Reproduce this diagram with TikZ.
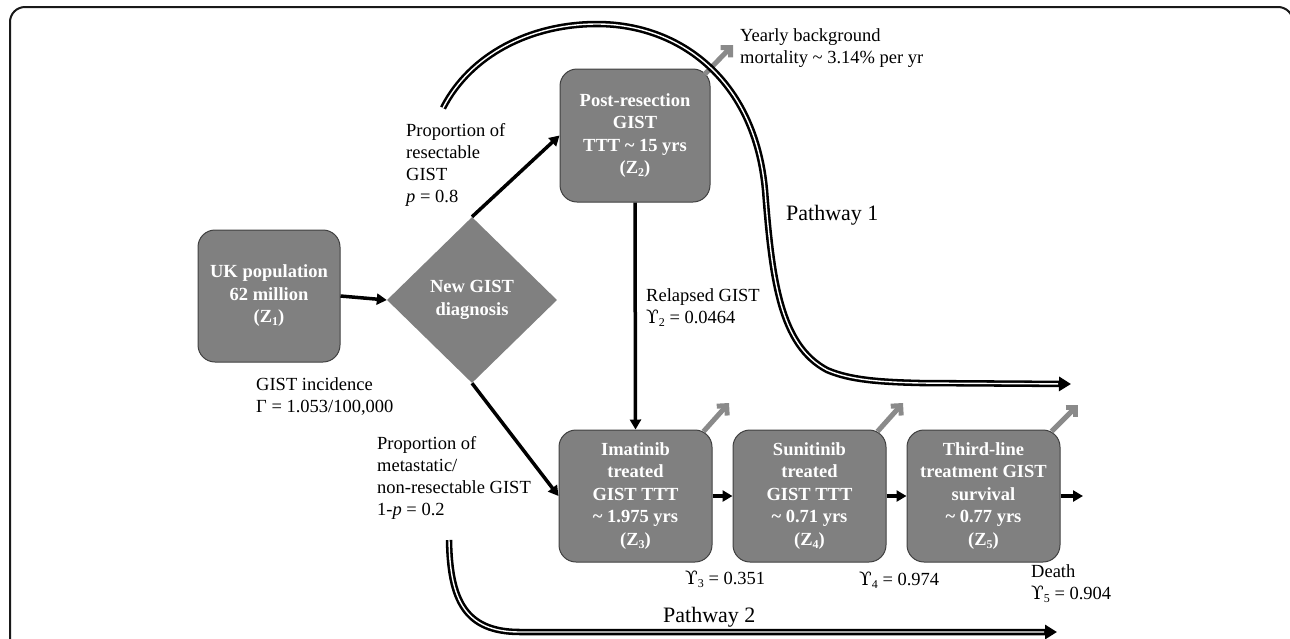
\documentclass[tikz,border=0pt]{standalone}
\usepackage{fontspec}
\setmainfont{Liberation Serif}
\newfontfamily\dvserif{DejaVu Serif}
\usetikzlibrary{shapes.geometric,arrows.meta}
\definecolor{boxgray}{HTML}{808080}
\definecolor{arrgray}{HTML}{8A8A8A}
\newcommand\gsym{{\dvserif ϒ}}
\newcommand\lowsub[1]{\raisebox{-0.35ex}{\fontsize{12}{12}\selectfont #1}}
\newcommand\tld{\textasciitilde}
\begin{document}
\begin{tikzpicture}[x=1pt,y=-1pt,
  box/.style={draw=black!75, line width=1, fill=boxgray, rounded corners=17,
    text=white, font=\fontsize{18.5}{22.5}\selectfont\bfseries, align=center, inner sep=0},
  ann/.style={font=\fontsize{18.5}{22}\selectfont, align=left, inner sep=0, anchor=west},
  pathlbl/.style={font=\fontsize{22}{24}\selectfont, inner sep=0, anchor=west},
  flow/.style={line width=3.5, -{Triangle[length=10,width=11]}},
  garrow/.style={draw=arrgray, line width=5, -{Straight Barb[length=7,width=14]}},
  dbl/.style={line width=6.5, -{Triangle[length=12,width=14]}},
  dblin/.style={draw=white, line width=1.4, shorten >=13}]
\useasboundingbox (0,0) rectangle (1290,638);
% outer frame
\draw[line width=2, draw=black!90, rounded corners=15] (10,7) rectangle (1293,680);

% mortality arrows (behind boxes)
\coordinate (m2) at (733,45);
\coordinate (m3) at (729,403);
\coordinate (m4) at (903,403);
\coordinate (m5) at (1078,405);

% boxes
\node[box, minimum width=142, minimum height=132] (uk) at (269,296) {UK population\\62 million\\(Z\lowsub{1})};
\node[diamond, fill=boxgray, minimum width=170, minimum height=166, inner sep=0,
  text=white, font=\fontsize{18.5}{22.5}\selectfont\bfseries, align=center] (dia) at (472,300) {New GIST\\diagnosis};
\node[box, minimum width=150, minimum height=133] (post) at (635,135.5) {Post-resection\\GIST\\TTT \tld\ 15 yrs\\(Z\lowsub{2})};
\node[box, minimum width=153, minimum height=132] (ima) at (635.5,496) {Imatinib\\treated\\GIST TTT\\\tld\ 1.975 yrs\\(Z\lowsub{3})};
\node[box, minimum width=153, minimum height=132] (sun) at (809.5,496) {Sunitinib\\treated\\GIST TTT\\\tld\ 0.71 yrs\\(Z\lowsub{4})};
\node[box, minimum width=153, minimum height=132] (third) at (983.5,496) {Third-line\\treatment GIST\\survival\\\tld\ 0.77 yrs\\(Z\lowsub{5})};

\draw[garrow] ([shift={(-6,6)}]post.north east) -- (m2);
\draw[garrow] ([shift={(-9,2)}]ima.north east) -- (m3);
\draw[garrow] ([shift={(-9,2)}]sun.north east) -- (m4);
\draw[garrow] ([shift={(-9,2)}]third.north east) -- (m5);

% flow connectors
\draw[flow] (uk.east) -- (dia.west);
\draw[flow] (dia.north) -- (post.west);
\draw[flow] (dia.south) -- (ima.west);
\draw[flow] (post.south) -- (ima.north);
\draw[flow] (ima.east) -- (sun.west);
\draw[flow] (sun.east) -- (third.west);
\coordinate (death) at (1083,496);
\draw[flow] (third.east) -- (death);

% pathway arrows
\coordinate (p1s) at (443,108);
\coordinate (p1e) at (1071,384);
\coordinate (p2s) at (449,540);
\coordinate (p2e) at (1057,632);
\draw[dbl] (p1s) .. controls (470,55) and (530,24) .. (597,24)
  .. controls (680,24) and (755,80) .. (765,190)
  .. controls (772,280) and (780,345) .. (827,370)
  .. controls (850,380) and (880,382) .. (920,383) -- (p1e);
\draw[dblin] (p1s) .. controls (470,55) and (530,24) .. (597,24)
  .. controls (680,24) and (755,80) .. (765,190)
  .. controls (772,280) and (780,345) .. (827,370)
  .. controls (850,380) and (880,382) .. (920,383) -- (p1e);
\draw[dbl] (p2s) .. controls (450,600) and (465,632) .. (520,632) -- (p2e);
\draw[dblin] (p2s) .. controls (450,600) and (465,632) .. (520,632) -- (p2e);

% labels
\node[ann] (lmort) at (740,48) {Yearly background\\mortality \tld\ 3.14\% per yr};
\node[ann] (lres) at (406,165) {Proportion of\\resectable\\GIST\\\textit{p} = 0.8};
\node[ann] (linc) at (256,396) {GIST incidence\\Γ = 1.053/100,000};
\node[ann] (lmet) at (377,478) {Proportion of\\metastatic/\\non-resectable GIST\\1-\textit{p} = 0.2};
\node[ann] (lrel) at (646,307.5) {Relapsed GIST\\\gsym\lowsub{2} = 0.0464};
\node[ann] (lg3) at (685,579) {\gsym\lowsub{3} = 0.351};
\node[ann] (lg4) at (859,580) {\gsym\lowsub{4} = 0.974};
\node[ann] (ldeath) at (1031,584) {Death\\\gsym\lowsub{5} = 0.904};
\node[pathlbl] (lp1) at (786,215) {Pathway 1};
\node[pathlbl] (lp2) at (663,617) {Pathway 2};
\end{tikzpicture}
\end{document}
